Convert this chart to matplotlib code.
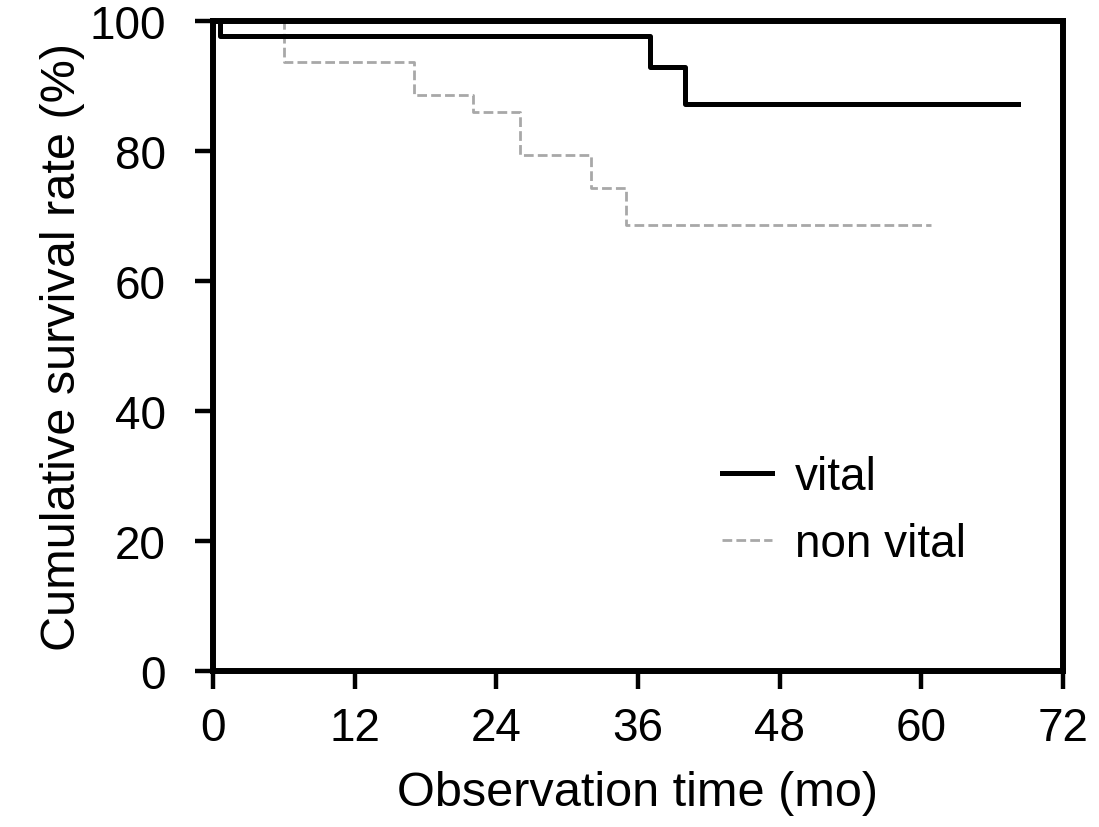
import matplotlib
matplotlib.use("Agg")
import matplotlib.pyplot as plt

plt.rcParams['font.family'] = ['Liberation Sans', 'DejaVu Sans']

# Kaplan-Meier step data (months, % surviving)
VITAL_T = [0, 0.6, 37, 40, 68.2]
VITAL_S = [100, 97.7, 93.0, 87.3, 87.3]

NONVITAL_T = [0, 6, 17, 22, 26, 32, 35, 60.8]
NONVITAL_S = [100, 93.8, 88.6, 86.0, 79.4, 74.4, 68.7, 68.7]

X_TICKS = [0, 12, 24, 36, 48, 60, 72]
Y_TICKS = [0, 20, 40, 60, 80, 100]

fig = plt.figure(figsize=(10.99, 8.28), dpi=100)
ax = fig.add_axes([0.194, 0.188, 0.773, 0.785])

ax.step(VITAL_T, VITAL_S, where='post', color='black', lw=3.6, label='vital', zorder=3)
ax.step(NONVITAL_T, NONVITAL_S, where='post', color='#a8a8a8', lw=2.0,
        linestyle=(0, (3.5, 1.5)), label='non vital', zorder=2)

ax.set_xlim(0, 72)
ax.set_ylim(0, 100)
ax.set_xticks(X_TICKS)
ax.set_yticks(Y_TICKS)
ax.tick_params(labelsize=33, width=3.2, length=13, direction='out')
ax.tick_params(axis='x', pad=12)
ax.tick_params(axis='y', pad=21)
for s in ax.spines.values():
    s.set_linewidth(4.3)

ax.set_xlabel("Observation time (mo)", fontsize=35, labelpad=14)
ax.set_ylabel("Cumulative survival rate (%)", fontsize=35, labelpad=3)

ax.legend(loc='center left', bbox_to_anchor=(0.55, 0.247), frameon=False,
          fontsize=33, handlelength=1.1, handletextpad=0.5, labelspacing=0.5)

fig.savefig("out.png", dpi=100)
